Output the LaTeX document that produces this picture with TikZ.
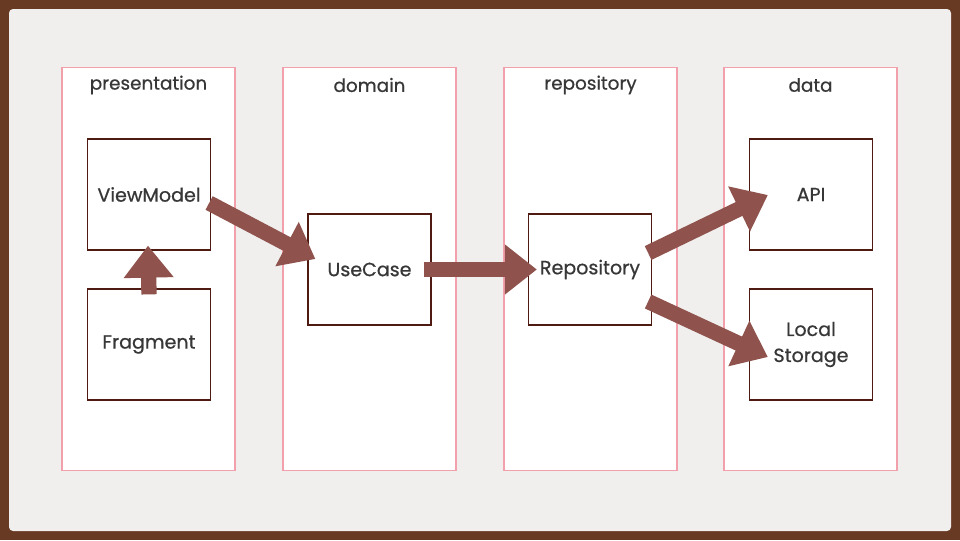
\documentclass[tikz,border=0pt]{standalone}
\usepackage{fontspec}
\setmainfont{Poppins}[FakeBold=0.6]
\definecolor{woodbrown}{RGB}{104,58,36}
\definecolor{paper}{RGB}{240,239,237}
\definecolor{layerpink}{RGB}{242,160,172}
\definecolor{boxbrown}{RGB}{78,26,18}
\definecolor{arrowred}{RGB}{143,82,76}
\definecolor{textgray}{RGB}{55,55,55}
\usetikzlibrary{arrows.meta, positioning}

\begin{document}
\begin{tikzpicture}[x=0.75pt, y=-0.75pt,
  layer/.style={draw=layerpink, line width=1.1pt, fill=white, minimum width=130pt, minimum height=302pt, inner sep=0pt},
  title/.style={text=textgray, font=\fontsize{13.8}{16}\selectfont},
  part/.style={draw=boxbrown, line width=1.2pt, fill=white, minimum width=92pt, minimum height=83pt, inner sep=0pt, align=center, text=textgray, font=\fontsize{14.3}{19.5}\selectfont},
  bigarrow/.style={draw=arrowred, line width=11.5pt, -{Triangle[length=24pt, width=36pt]}}]
  % Background
  \fill[woodbrown] (0,0) rectangle (960,540);
  \fill[paper, rounded corners=3pt] (9,9) rectangle (951,531);

  % Layers
  \foreach \name/\cx/\label in {pres/148.5/presentation, dom/369.5/domain, repo/590.5/repository, data/810.5/data} {
    \node[layer] (\name) at (\cx,269) {};
    \node[title] (\name title) at (\cx,85) {\label};
  }

  % Parts
  \node[part] (vm) at (149,194.5) {ViewModel};
  \node[part] (frag) at (149,344.5) {Fragment};
  \node[part] (uc) at (369.5,269.5) {UseCase};
  \node[part] (rp) at (590,269.5) {Repository};
  \node[part] (api) at (811,194.5) {API};
  \node[part] (local) at (811,344.5) {Local\\Storage};

  % Arrows
  \draw[bigarrow] ([shift={(0,6)}]frag.north) -- ([shift={(-1,-5)}]vm.south);
  \draw[bigarrow] ([shift={(-2,8.5)}]vm.east) -- ([shift={(8,-10.5)}]uc.west);
  \draw[bigarrow] ([shift={(-8,0)}]uc.east) -- ([shift={(9,0)}]rp.west);
  \draw[bigarrow] ([shift={(-4,-16.5)}]rp.east) -- ([shift={(19,0.5)}]api.west);
  \draw[bigarrow] ([shift={(-4,32)}]rp.east) -- ([shift={(19,12.5)}]local.west);
\end{tikzpicture}
\end{document}
